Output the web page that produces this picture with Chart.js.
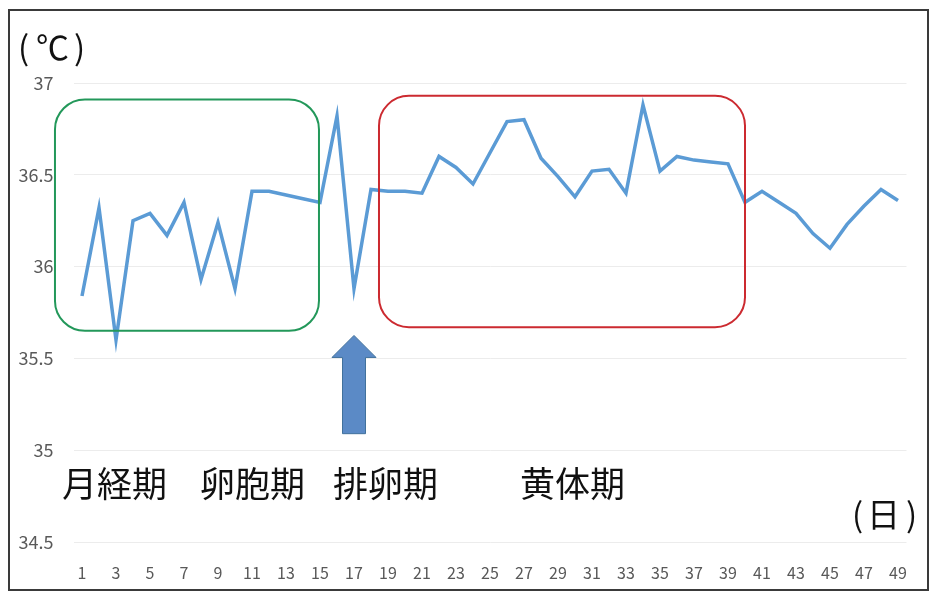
<!DOCTYPE html>
<html>
<head>
<meta charset="utf-8">
<script src="https://cdn.jsdelivr.net/npm/chart.js@4"></script>
<style>
    html, body { margin: 0; padding: 0; background: #ffffff; }
    #wrap { width: 934px; height: 592px; position: relative; }
</style>
</head>
<body>
<div id="wrap"><canvas id="chartTemp"></canvas></div>
<script>
// days 1..49
const days = Array.from({ length: 49 }, (_, i) => String(i + 1));

// basal body temperature (°C)
const temps = [
    35.84, 36.32, 35.60, 36.25, 36.29, 36.17, 36.35, 35.93, 36.24, 35.88,
    36.41, 36.41, 36.39, 36.37, 36.35, 36.82, 35.88, 36.42, 36.41, 36.41,
    36.40, 36.60, 36.54, 36.45, 36.62, 36.79, 36.80, 36.59, 36.49, 36.38,
    36.52, 36.53, 36.40, 36.88, 36.52, 36.60, 36.58, 36.57, 36.56, 36.35,
    36.41, 36.35, 36.29, 36.18, 36.10, 36.23, 36.33, 36.42, 36.36
];

// phase labels under the plot
const phaseLabels = ['月経期', '卵胞期', '排卵期', '黄体期'];
const phaseX = [62, 200, 333, 520];

// highlighted ranges: [startIndex, endIndex, topTemp, bottomTemp]
const greenBox = [-1.59, 13.94, 36.91, 35.65];
const redBox = [17.47, 39.0, 36.93, 35.67];
const arrowIndex = 16;
const arrowTemp = [35.625, 35.09];

const jpFont = '"Noto Sans CJK JP", "Noto Sans", sans-serif';

function roundRect(ctx, x1, y1, x2, y2, r) {
    ctx.beginPath();
    ctx.moveTo(x1 + r, y1);
    ctx.arcTo(x2, y1, x2, y2, r);
    ctx.arcTo(x2, y2, x1, y2, r);
    ctx.arcTo(x1, y2, x1, y1, r);
    ctx.arcTo(x1, y1, x2, y1, r);
    ctx.closePath();
}

const decorations = {
    id: 'decorations',
    beforeDraw(chart) {
        const ctx = chart.ctx;
        ctx.save();
        ctx.fillStyle = '#ffffff';
        ctx.fillRect(0, 0, chart.width, chart.height);
        ctx.restore();
    },
    afterDraw(chart) {
        const ctx = chart.ctx;
        const x = chart.scales.x;
        const y = chart.scales.y;
        ctx.save();

        // boxes
        ctx.lineWidth = 2;
        [[greenBox, '#23985a'], [redBox, '#cc2a30']].forEach(([b, color]) => {
            ctx.strokeStyle = color;
            roundRect(ctx, x.getPixelForValue(b[0]), y.getPixelForValue(b[2]),
                x.getPixelForValue(b[1]), y.getPixelForValue(b[3]), 30);
            ctx.stroke();
        });

        // ovulation arrow
        const cx = x.getPixelForValue(arrowIndex);
        const tip = y.getPixelForValue(arrowTemp[0]);
        const bottom = y.getPixelForValue(arrowTemp[1]);
        ctx.beginPath();
        ctx.moveTo(cx, tip);
        ctx.lineTo(cx + 22, tip + 22);
        ctx.lineTo(cx + 11.5, tip + 22);
        ctx.lineTo(cx + 11.5, bottom);
        ctx.lineTo(cx - 11.5, bottom);
        ctx.lineTo(cx - 11.5, tip + 22);
        ctx.lineTo(cx - 22, tip + 22);
        ctx.closePath();
        ctx.fillStyle = '#5b8ac6';
        ctx.fill();
        ctx.strokeStyle = '#41719c';
        ctx.lineWidth = 1;
        ctx.stroke();

        // texts
        ctx.fillStyle = '#111111';
        ctx.textBaseline = 'alphabetic';
        ctx.textAlign = 'left';
        ctx.font = '35px ' + jpFont;
        phaseLabels.forEach((t, i) => ctx.fillText(t, phaseX[i], 497));
        ctx.font = '33px ' + jpFont;
        ctx.fillText('(', 18, 60);
        ctx.fillText('℃', 36, 60);
        ctx.fillText(')', 74, 60);
        ctx.fillText('(', 852, 527);
        ctx.fillText('日', 867, 527);
        ctx.fillText(')', 906, 527);

        // frame
        ctx.strokeStyle = '#3a3a3a';
        ctx.lineWidth = 2;
        ctx.strokeRect(9, 10, 919, 580);
        ctx.restore();
    }
};

new Chart(document.getElementById('chartTemp'), {
    type: 'line',
    data: {
        labels: days,
        datasets: [{
            data: temps,
            borderColor: '#5b9bd5',
            borderWidth: 3.5,
            pointRadius: 0,
            tension: 0,
            fill: false
        }]
    },
    options: {
        responsive: true,
        maintainAspectRatio: false,
        animation: false,
        layout: { padding: { left: 0, right: 27.5, top: 83, bottom: 0 } },
        plugins: {
            legend: { display: false },
            tooltip: { enabled: false }
        },
        scales: {
            x: {
                offset: true,
                grid: { display: false, drawTicks: false },
                border: { display: false },
                afterFit(scale) { scale.height = 50; },
                ticks: {
                    autoSkip: false,
                    maxRotation: 0,
                    padding: 21,
                    color: '#595959',
                    font: { family: jpFont, size: 16 },
                    callback: (v, i) => (i % 2 === 0 ? days[i] : '')
                }
            },
            y: {
                min: 34.5,
                max: 37,
                grid: { color: '#ececec', drawTicks: false },
                border: { display: false },
                afterFit(scale) { scale.width = 73.5; },
                ticks: {
                    stepSize: 0.5,
                    padding: 20,
                    color: '#595959',
                    font: { family: jpFont, size: 18 },
                    callback: v => String(Math.round(v * 10) / 10)
                }
            }
        }
    },
    plugins: [decorations]
});
</script>
</body>
</html>
